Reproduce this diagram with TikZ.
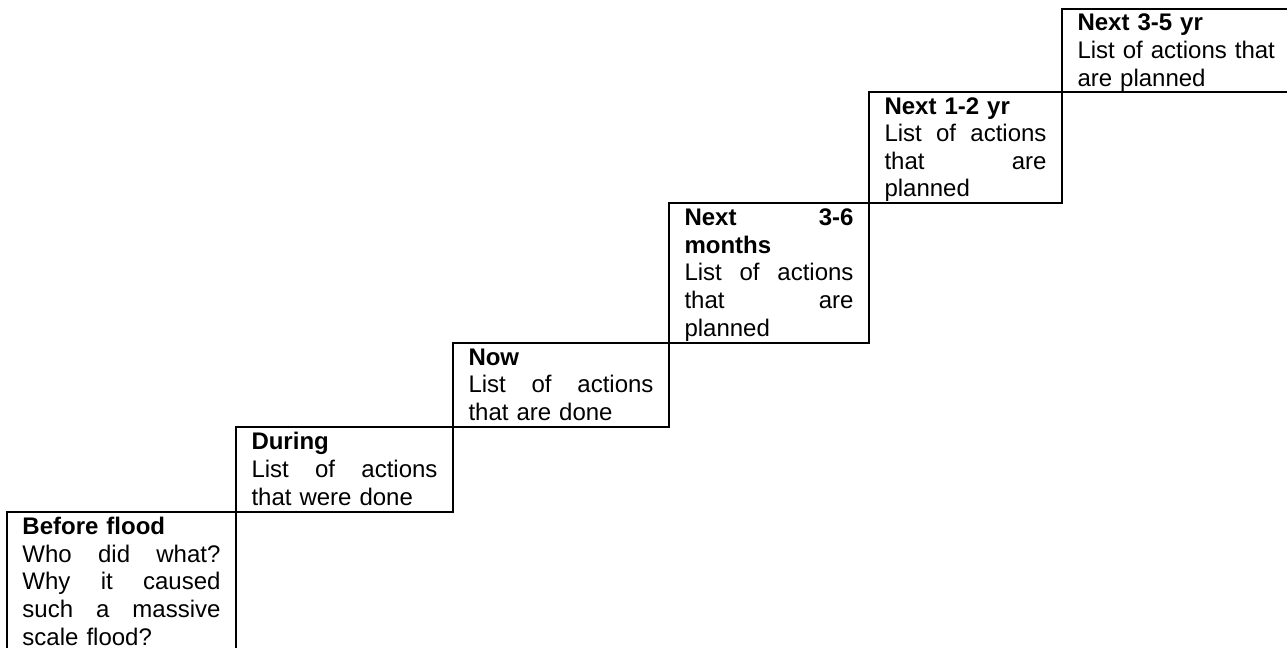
\documentclass[tikz,border=0pt]{standalone}
\usepackage{fontspec}
\setmainfont{Liberation Sans}
\newcommand{\topstr}{\rule{0pt}{10.86pt}}
\newcommand{\botstr}{\rule[-2.94pt]{0pt}{2.94pt}}
\tikzset{
  stairbox/.style={draw, line width=1pt, anchor=north west, inner xsep=7.75pt,
    inner ysep=0pt, outer sep=0pt, font=\fontsize{12pt}{13.8pt}\selectfont}
}
\begin{document}
\begin{tikzpicture}[x=0.5pt,y=-0.5pt]
\clip (0,0) rectangle (1287,648);
\fill[white] (0,0) rectangle (1287,648);
\node[stairbox, minimum width=114.5pt, text width=99pt, minimum height=70pt] (b1) at (7,512) {\vbox{%
  \hbox{\topstr\textbf{Before flood}}%
  \hbox to\hsize{Who\hfill did\hfill what?}%
  \hbox to\hsize{Why\hfill it\hfill caused}%
  \hbox to\hsize{such\hfill a\hfill massive}%
  \hbox{\botstr scale flood?}}};
\node[stairbox, minimum width=108.5pt, text width=93pt, minimum height=42.5pt] (b2) at (236,427) {\vbox{%
  \hbox{\topstr\textbf{During}}%
  \hbox to\hsize{List\hfill of\hfill actions}%
  \hbox{\botstr that were done}}};
\node[stairbox, minimum width=108pt, text width=92.5pt, minimum height=42pt] (b3) at (453,343) {\vbox{%
  \hbox{\topstr\textbf{Now}}%
  \hbox to\hsize{List\hfill of\hfill actions}%
  \hbox{\botstr that are done}}};
\node[stairbox, minimum width=100pt, text width=84.5pt, minimum height=70pt] (b4) at (669,203) {\vbox{%
  \hbox to\hsize{\topstr\textbf{Next}\hfill\textbf{3-6}}%
  \hbox{\textbf{months}}%
  \hbox to\hsize{List\hfill of\hfill actions}%
  \hbox to\hsize{that\hfill are}%
  \hbox{\botstr planned}}};
\node[stairbox, minimum width=96.5pt, text width=81pt, minimum height=55.5pt] (b5) at (869,92) {\vbox{%
  \hbox{\topstr\textbf{Next 1-2 yr}}%
  \hbox to\hsize{List\hfill of\hfill actions}%
  \hbox to\hsize{that\hfill are}%
  \hbox{\botstr planned}}};
\node[stairbox, minimum width=117.5pt, text width=102pt, minimum height=41.5pt] (b6) at (1062,9) {\vbox{%
  \hbox{\topstr\textbf{Next 3-5 yr}}%
  \hbox{List of actions that}%
  \hbox{\botstr are planned}}};
\end{tikzpicture}
\end{document}
